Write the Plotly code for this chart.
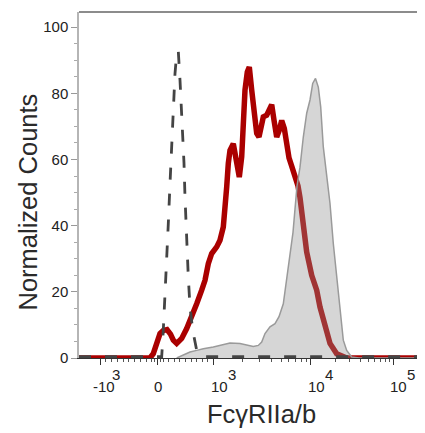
import numpy as np
import plotly.graph_objects as go

# ---------------- data ----------------
# Histograms on the biexponential display scale (display channel 0..346)
# FcγRIIa/b stained sample (red)
red_channel = [0, 71, 74.3, 77.7, 81, 84.3, 88, 91.5, 94.3, 97.7, 102.7, 107.7, 112.7, 117.7, 122.7,
               126, 129.3, 132.7, 137.7, 141, 144.3, 146, 147.7, 149.3, 151, 154.3, 157.7, 160.3,
               162.7, 164.3, 166, 168.3, 170.3, 172.7, 175, 177.7, 180, 182, 184.3, 187.7, 190.3,
               192.7, 195, 197.7, 200.3, 202.7, 205.3, 207.7, 210, 212.7, 216, 219, 221, 224.3,
               227.7, 232.7, 237.7, 241, 246, 251, 257.7, 267.7, 346]
red_count = [0, 0, 1.3, 4.4, 7.4, 8.3, 8.6, 7.2, 5.4, 4.4, 5.9, 8.9, 12.4, 16.4, 20.5,
             23.5, 28.5, 31.6, 33.6, 35.6, 39.6, 44.7, 51.7, 58.8, 62.8, 64.8, 59.8, 54.7,
             60.8, 72.9, 81, 86.5, 88, 81, 73.9, 67.9, 66.8, 69.9, 72.9, 73.4, 74.9,
             76.6, 71.9, 66.8, 68.9, 71.8, 69.4, 63.5, 60.5, 58.0, 55.3, 52.0, 48.5, 40.0,
             32.0, 25.0, 20.5, 15.4, 9.4, 4.4, 1.3, 0, 0]

# Comparison sample (gray filled)
gray_channel = [97.7, 104.3, 111, 117.7, 124.3, 134.3, 141, 147.7, 151, 161, 167.7, 174.3, 179.3,
                182.7, 186, 191, 196, 200, 204.3, 207.7, 211, 214, 216, 218, 221, 224.3, 227.7,
                231, 233.7, 236.5, 239.3, 241.7, 244.3, 247.7, 251, 254.3, 257.7, 261, 264.3,
                267.7, 272.7, 280, 346]
gray_count = [0, 0.8, 1.8, 2.3, 2.8, 3.3, 3.8, 4.4, 4.5, 4.4, 4.0, 3.5, 3.8,
              4.8, 7.4, 9.4, 10.4, 12.5, 16.4, 23.5, 31.6, 38, 45, 52, 57.7, 66.8, 74,
              78, 83, 84.5, 81.9, 75.9, 63.8, 54.7, 46.7, 34.6, 24.5, 13.4, 5.4,
              2.3, 0.3, 0, 0]

# Unstained / isotype control (dashed)
ctrl_channel = [0, 82.7, 84.3, 86, 87.7, 89.3, 91, 92.7, 94.3, 96, 97.7, 99.3, 101, 102.7, 103.7,
                105, 106, 107, 108, 109.3, 111, 113.7, 117.7, 121.7, 125, 346]
ctrl_count = [0.4, 0.4, 8.4, 18.4, 28.5, 40.6, 52.7, 63.8, 75.9, 86, 92, 92.8, 84, 74.9, 66.8,
              58.9, 48.7, 40.7, 32.6, 24.5, 15.4, 8.4, 2.3, 0.5, 0.4, 0.4]

# Axis ticks (fluorescence values)
x_major_values = [-1000, 0, 1000, 10000, 100000]
x_major_base = ["-10", "0", "10", "10", "10"]
x_major_exp = ["3", "", "3", "4", "5"]
x_minor_values = ([-900, -800, -700, -600, -500, -400, -300, -200, -100, -50, 50,
                   100, 200, 300, 400, 500, 600, 700, 800, 900]
                  + [2000, 3000, 4000, 5000, 6000, 7000, 8000, 9000]
                  + [20000, 30000, 40000, 50000, 60000, 70000, 80000, 90000, 200000])
y_major_values = [0, 20, 40, 60, 80, 100]
y_major_labels = ["0", "20", "40", "60", "80", "100"]

x_title = "FcγRIIa/b"
y_title = "Normalized Counts"


# ---------------- biexponential display scale ----------------
def biex(v):
    """Map a fluorescence value to the display channel."""
    v = float(v)
    if -1000 <= v <= 0:
        return 78.5 + v * (78.5 - 21.0) / 1000.0
    if 0 < v <= 1000:
        return 78.5 + v * (134.5 - 78.5) / 1000.0
    if v > 1000:
        d = np.log10(v)
        if d <= 5:
            return float(np.interp(d, [3, 4, 5], [134.5, 231.5, 314.0]))
        return 314.0 + (d - 5) * 82.5
    d = np.log10(-v)
    return 21.0 - (d - 3) * 97.0


FONT = "Liberation Sans, Arial, sans-serif"
TXT = "#222222"

fig = go.Figure()

fig.add_trace(go.Scatter(x=red_channel, y=red_count, mode="lines",
                         line=dict(color="#aa0000", width=5.5),
                         showlegend=False, hoverinfo="skip"))
fig.add_trace(go.Scatter(x=gray_channel, y=gray_count, mode="lines", fill="tozeroy",
                         fillcolor="rgba(143,143,143,0.365)",
                         line=dict(color="#9a9a9a", width=1.5),
                         showlegend=False, hoverinfo="skip"))
fig.add_trace(go.Scatter(x=ctrl_channel, y=ctrl_count, mode="lines",
                         line=dict(color="#444444", width=2.8, dash="12px,14px"),
                         showlegend=False, hoverinfo="skip"))

x_tick_pos = [biex(v) for v in x_major_values]
x_minor_pos = [biex(v) for v in x_minor_values]

fig.update_xaxes(range=[0, 346], showgrid=False, zeroline=False, automargin=False,
                 showline=True, linecolor="#333333", linewidth=1,
                 tickmode="array", tickvals=x_tick_pos, ticktext=[""] * len(x_tick_pos),
                 ticks="outside", ticklen=6, tickcolor="#333333", tickwidth=1,
                 showticklabels=False,
                 minor=dict(tickmode="array", tickvals=x_minor_pos, ticks="outside",
                            ticklen=3, tickcolor="#555555", tickwidth=1, showgrid=False))
fig.update_yaxes(range=[0, 104.6], showgrid=False, zeroline=False, automargin=False,
                 showline=True, linecolor="#b5b5b5", linewidth=1.5,
                 tickmode="array", tickvals=y_major_values, ticktext=y_major_labels,
                 ticks="outside", ticklen=6, tickcolor="#999999", tickwidth=1,
                 tickfont=dict(family=FONT, size=15, color=TXT),
                 minor=dict(dtick=5, ticks="outside", ticklen=3, tickcolor="#aaaaaa",
                            tickwidth=1, showgrid=False))

annotations = []
for pos, base, exp in zip(x_tick_pos, x_major_base, x_major_exp):
    shift = 0 if exp == "" else (3.5 if base.startswith("-") else 5.5)
    annotations.append(dict(xref="x", yref="paper", x=pos, y=0, text=base, showarrow=False,
                            xanchor="center", yanchor="middle", xshift=shift, yshift=-28,
                            font=dict(family=FONT, size=15, color=TXT)))
    if exp:
        annotations.append(dict(xref="x", yref="paper", x=pos, y=0, text=exp, showarrow=False,
                                xanchor="center", yanchor="middle", xshift=shift + 12.5,
                                yshift=-16, font=dict(family=FONT, size=15, color=TXT)))

annotations.append(dict(xref="paper", yref="paper", x=(261 - 79) / 346, y=0, text=x_title,
                        showarrow=False, xanchor="center", yanchor="middle", yshift=-56,
                        font=dict(family=FONT, size=25.5, color="#2a2a2a")))
annotations.append(dict(xref="paper", yref="paper", x=0, y=(358 - 202.5) / 346, text=y_title,
                        showarrow=False, xanchor="center", yanchor="middle", xshift=-52,
                        textangle=-90, font=dict(family=FONT, size=25.5, color="#2a2a2a")))

# The page body adds an 8px offset, so the figure is laid out 8px up/left.
fig.update_layout(width=417, height=425, margin=dict(l=71, r=0, t=4, b=75, autoexpand=False),
                  plot_bgcolor="white", paper_bgcolor="white",
                  annotations=annotations,
                  shapes=[dict(type="line", xref="paper", yref="paper", x0=0, x1=1, y0=1, y1=1,
                               line=dict(color="#666666", width=1.5))])

fig.write_html("out.html")
